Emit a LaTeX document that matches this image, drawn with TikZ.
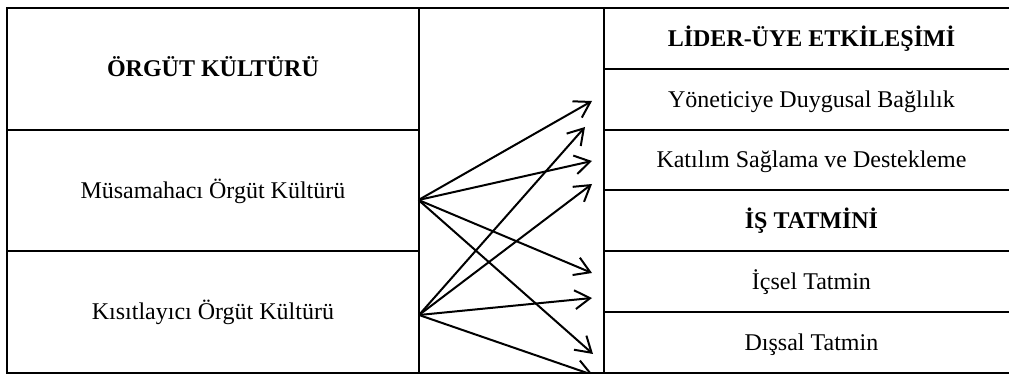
\documentclass[tikz,border=0pt]{standalone}
\usepackage{fontspec}
\setmainfont{Liberation Serif}
\usetikzlibrary{arrows.meta}
\begin{document}
\begin{tikzpicture}[x=0.5pt,y=-0.5pt,
  cell/.style={draw=black, line width=0.95pt, inner sep=0pt, anchor=north west,
    align=center, font=\fontsize{12}{14}\selectfont, text height=7.9pt, text depth=0pt},
  leftcell/.style={cell, minimum width=206pt, minimum height=60.83pt},
  rightcell/.style={cell, minimum width=207.5pt, minimum height=30.42pt},
  hdr/.style={font=\fontsize{12}{14}\selectfont\bfseries},
  link/.style={line width=1pt, -{Straight Barb[length=7.6pt,width=9.4pt,line width=1pt]}}
]
\useasboundingbox (0,0) rectangle (1009,374);
\clip (0,0) rectangle (1009,374);
% left column
\node[leftcell, hdr] (ok) at (6,7) {ÖRGÜT KÜLTÜRÜ};
\node[leftcell] (mus) at (6,128.7) {Müsamahacı Örgüt Kültürü};
\node[leftcell] (kis) at (6,250.3) {Kısıtlayıcı Örgüt Kültürü};
% middle column
\node[cell, minimum width=92.5pt, minimum height=182.5pt] (mid) at (418,7) {};
% right column
\node[rightcell, hdr] (lue) at (603,7) {LİDER-ÜYE ETKİLEŞİMİ};
\node[rightcell] (ydb) at (603,67.83) {Yöneticiye Duygusal Bağlılık};
\node[rightcell] (ksd) at (603,128.67) {Katılım Sağlama ve Destekleme};
\node[rightcell, hdr] (ist) at (603,189.5) {İŞ TATMİNİ};
\node[rightcell] (ict) at (603,250.33) {İçsel Tatmin};
\node[rightcell] (dst) at (603,311.17) {Dışsal Tatmin};
% arrow ends
\coordinate (s1) at (418.5,200);
\coordinate (s2) at (419,315);
\coordinate (t1) at (592,101);
\coordinate (t2) at (585,127);
\coordinate (t3) at (592,161);
\coordinate (t4) at (592,184);
\coordinate (t5) at (592,273);
\coordinate (t6) at (592,298);
\coordinate (t7) at (593,354);
\coordinate (t8) at (593,375);
% arrows
\draw[link] (s1) -- (t1);
\draw[link] (s1) -- (t3);
\draw[link] (s1) -- (t5);
\draw[link] (s1) -- (t7);
\draw[link] (s2) -- (t2);
\draw[link] (s2) -- (t4);
\draw[link] (s2) -- (t6);
\draw[link] (s2) -- (t8);
\end{tikzpicture}
\end{document}
